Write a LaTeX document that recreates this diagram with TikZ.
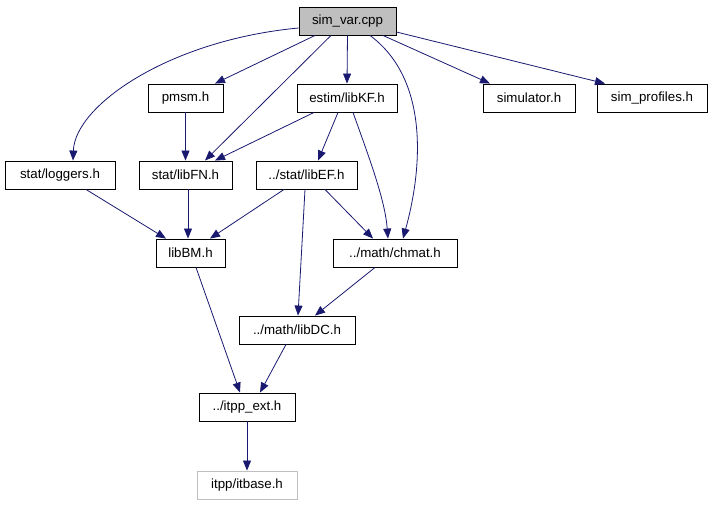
\documentclass[tikz,border=0pt]{standalone}
\usepackage{fontspec}
\setmainfont{Liberation Sans}
\usetikzlibrary{arrows.meta}
\definecolor{edgecol}{RGB}{25,25,112}
\definecolor{rootfill}{RGB}{191,191,191}
\definecolor{extborder}{RGB}{191,191,191}
\begin{document}
\begin{tikzpicture}[x=1pt,y=-1pt,
  box/.style={draw=black,line width=0.9pt,minimum height=28pt,inner sep=0pt,font=\fontsize{13.3}{16}\selectfont},
  rootbox/.style={box,fill=rootfill},
  extbox/.style={box,draw=extborder},
  dep/.style={draw=edgecol,line width=0.8pt,-{Triangle[length=10pt,width=8pt]},color=edgecol}]
\useasboundingbox (0,0) rectangle (712,504);
\node[rootbox,minimum width=97pt] (simvar) at (347.5,21) {sim\_var.cpp};
\node[box,minimum width=75pt] (pmsm) at (185.5,98) {pmsm.h};
\node[box,minimum width=100pt] (libKF) at (347,98) {estim/libKF.h};
\node[box,minimum width=92pt] (simulator) at (529,98) {simulator.h};
\node[box,minimum width=110pt] (simprof) at (652,98) {sim\_profiles.h};
\node[box,minimum width=110pt] (loggers) at (60,175) {stat/loggers.h};
\node[box,minimum width=93pt] (libFN) at (185.5,175) {stat/libFN.h};
\node[box,minimum width=101pt] (libEF) at (306.5,175) {../stat/libEF.h};
\node[box,minimum width=69pt] (libBM) at (190.5,253) {libBM.h};
\node[box,minimum width=124pt] (chmat) at (395,253) {../math/chmat.h};
\node[box,minimum width=116pt] (libDC) at (297,330) {../math/libDC.h};
\node[box,minimum width=96pt] (itppext) at (247,407) {../itpp\_ext.h};
\node[extbox,minimum width=100pt] (itbase) at (247,485) {itpp/itbase.h};

\draw[dep] ([yshift=-7pt]simvar.west) .. controls (170,40) and (75,105) .. ([xshift=13pt]loggers.north);
\draw[dep] ([xshift=-32.5pt]simvar.south) -- ([xshift=29.5pt]pmsm.north);
\draw[dep] ([xshift=-16.5pt]simvar.south) -- ([xshift=19.5pt]libFN.north);
\draw[dep] (simvar.south) -- (libKF.north);
\draw[dep] ([xshift=22.5pt]simvar.south) .. controls (430,80) and (422,170) .. ([xshift=8pt]chmat.north);
\draw[dep] ([xshift=35.5pt]simvar.south) -- ([xshift=-39pt]simulator.north);
\draw[dep] ([yshift=-11pt]simvar.east) -- ([xshift=-47pt]simprof.north);
\draw[dep] (pmsm.south) -- (libFN.north);
\draw[dep] ([xshift=-33pt]libKF.south) -- ([xshift=29.5pt]libFN.north);
\draw[dep] ([xshift=-9pt]libKF.south) -- ([xshift=11.5pt]libEF.north);
\draw[dep] ([xshift=6pt]libKF.south) .. controls (370,160) and (385,200) .. ([xshift=-7pt]chmat.north);
\draw[dep] ([xshift=26pt]loggers.south) -- ([xshift=-24.5pt]libBM.north);
\draw[dep] ([xshift=2.5pt]libFN.south) -- ([xshift=-2.5pt]libBM.north);
\draw[dep] ([xshift=-22.5pt]libEF.south) -- ([xshift=19.5pt]libBM.north);
\draw[dep] ([xshift=-1.5pt]libEF.south) -- ([xshift=1pt]libDC.north);
\draw[dep] ([xshift=18.5pt]libEF.south) -- ([xshift=-22pt]chmat.north);
\draw[dep] ([xshift=-20pt]chmat.south) -- ([xshift=18pt]libDC.north);
\draw[dep] ([xshift=5.5pt]libBM.south) -- ([xshift=-7pt]itppext.north);
\draw[dep] ([xshift=-11pt]libDC.south) -- ([xshift=13pt]itppext.north);
\draw[dep] (itppext.south) -- (itbase.north);
\end{tikzpicture}
\end{document}
